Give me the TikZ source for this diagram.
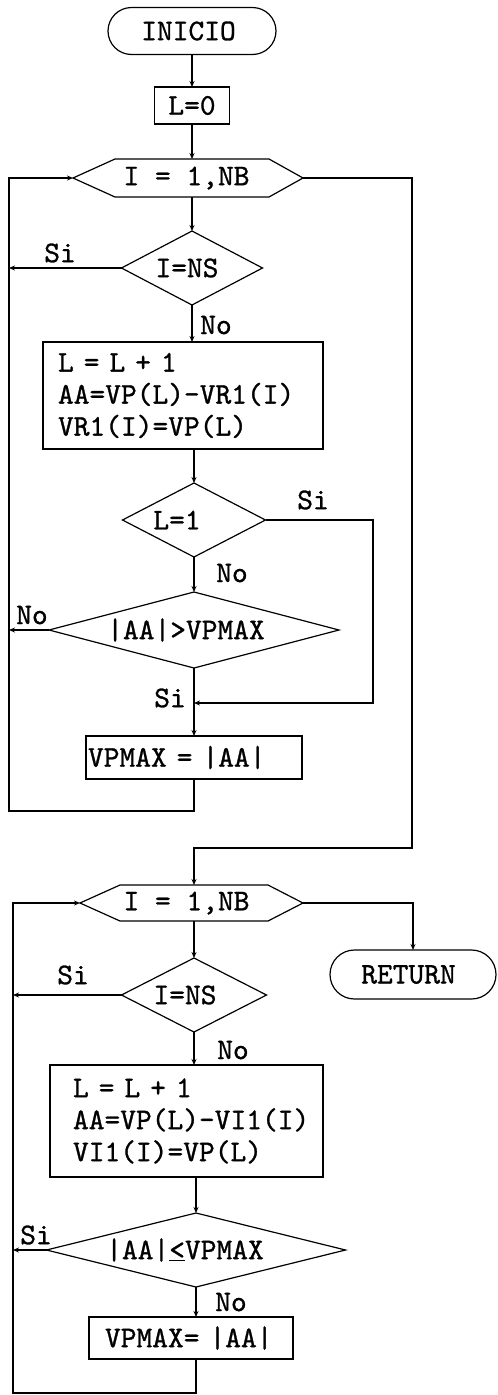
\documentclass[tikz,border=0pt]{standalone}
\usepackage{fontspec}
\newfontfamily\tw{lmmono10-regular.otf}[FakeBold=1]
\usetikzlibrary{shapes.misc,arrows.meta,calc}
\tikzset{
  every node/.style={font=\tw\fontsize{30}{32}\selectfont, inner sep=0pt, outer sep=0pt},
  lw/.style={line width=1.2pt},
  arr/.style={lw, -{Stealth[length=6pt,width=5pt]}},
  term/.style={draw, lw, rounded rectangle, minimum width=168pt, minimum height=47pt},
  decbox/.style={rectangle, minimum height=74pt},
  proc/.style={draw, lw, rectangle, align=left},
  hexcore/.style={rectangle, minimum height=38pt},
  lab/.style={}
}
\newcommand\dgmoutline[1]{\draw[lw] (#1.north) -- (#1.east) -- (#1.south) -- (#1.west) -- cycle;}
\begin{document}
\begin{tikzpicture}[x=1pt,y=-1pt]
\useasboundingbox (0,0) rectangle (498,1395);
% ---------- first loop ----------
\node[term] (ini) at (192,31) {INICIO\hspace*{7pt}};
\node[proc, minimum width=75pt, minimum height=37pt, align=center] (l0) at (192,105.5) {L=0};
\node[hexcore, minimum width=154pt] (h1) at (192,178) {I = 1,NB\hspace*{11pt}};
\coordinate (h1w) at ($(h1.west)+(-42,0)$);
\coordinate (h1e) at ($(h1.east)+(34,0)$);
\draw[lw] (h1.north west) -- (h1.north east) -- (h1e) -- (h1.south east) -- (h1.south west) -- (h1w) -- cycle;
\node[decbox, minimum width=141pt] (d1) at (192,268) {I=NS\hspace*{10pt}};
\dgmoutline{d1}
\node[proc, minimum width=280pt, minimum height=107pt, text width=280pt] (b1) at (183,395.5)
  {\hspace*{15pt}L = L + 1\\\hspace*{15pt}AA=VP(L)-VR1(I)\\\hspace*{15pt}VR1(I)=VP(L)};
\node[decbox, minimum width=143pt] (d2) at (194,520) {L=1\hspace*{34pt}};
\dgmoutline{d2}
\node[decbox, minimum width=290pt, minimum height=76pt] (d3) at (194,630) {|AA|>VPMAX\hspace*{16pt}};
\dgmoutline{d3}
\coordinate (j1) at (194,703);
\coordinate (r1) at (373,703);
\node[proc, minimum width=216pt, minimum height=43pt, text width=216pt] (b2) at (194,757.5) {\hspace*{2pt}VPMAX = |AA|};
\coordinate (lb1) at (9,811);
\coordinate (lt1) at (9,178);
\coordinate (rb) at (412,848);
% labels
\node[lab] (s1) at (60,253) {Si};
\node[lab] (n1) at (216,325) {No};
\node[lab] (s2) at (313,500) {Si};
\node[lab] (n2) at (232,573) {No};
\node[lab] (n3) at (32,615) {No};
\node[lab] (s3) at (170,698) {Si};
% connectors
\draw[arr] (ini) -- (l0);
\draw[arr] (l0) -- (h1);
\draw[arr] (h1) -- (d1);
\draw[arr] (d1) -- (d1.south |- b1.north);
\draw[arr] (d2.north |- b1.south) -- (d2);
\draw[arr] (d2) -- (d3);
\draw[arr] (d2.east) -| (r1) -- (j1);
\draw[arr] (d3) -- (b2);
\draw[arr] (b2.south) |- (lb1) -- (lt1) -- (h1w);
\draw[arr] (d1.west) -- (d1.west -| lt1);
\draw[arr] (d3.west) -- (d3.west -| lt1);
% ---------- second loop ----------
\node[hexcore, minimum width=148pt, minimum height=36pt] (h2) at (194,903) {I = 1,NB\hspace*{15pt}};
\coordinate (h2w) at ($(h2.west)+(-40,0)$);
\coordinate (h2e) at ($(h2.east)+(35,0)$);
\draw[lw] (h2.north west) -- (h2.north east) -- (h2e) -- (h2.south east) -- (h2.south west) -- (h2w) -- cycle;
\draw[arr] (h1e) -| (rb) -| (h2.north);
\node[term, minimum width=166pt, minimum height=49pt] (ret) at (413,974.5) {RETURN\hspace*{9pt}};
\node[decbox, minimum width=145pt] (d4) at (194,995) {I=NS\hspace*{18pt}};
\dgmoutline{d4}
\node[proc, minimum width=273pt, minimum height=112pt, text width=273pt] (b3) at (186.5,1121)
  {\hspace*{23pt}L = L + 1\\\hspace*{23pt}AA=VP(L)-VI1(I)\\\hspace*{23pt}VI1(I)=VP(L)};
\node[decbox, minimum width=299pt] (d5) at (196,1250) {|AA|\underline{<}VPMAX\hspace*{22pt}};
\dgmoutline{d5}
\node[proc, minimum width=204pt, minimum height=42pt, text width=204pt] (b4) at (191,1338) {\hspace*{16pt}VPMAX= |AA|};
\coordinate (lt2) at (13,903);
\coordinate (lb2) at (13,1393);
\node[lab] (s4) at (73,975) {Si};
\node[lab] (n4) at (233,1050) {No};
\node[lab] (s5) at (36,1235) {Si};
\node[lab] (n5) at (231,1302) {No};
\draw[arr] (h2e) -| (ret.north);
\draw[arr] (h2) -- (d4);
\draw[arr] (d4) -- (d4.south |- b3.north);
\draw[arr] (d5.north |- b3.south) -- (d5);
\draw[arr] (d5) -- (d5.south |- b4.north);
\draw[arr] (d4.west) -- (d4.west -| lt2);
\draw[arr] (d5.west) -- (d5.west -| lt2);
\draw[arr] (d5.south |- b4.south) |- (lb2) -- (lt2) -- (h2w);
\end{tikzpicture}
\end{document}
